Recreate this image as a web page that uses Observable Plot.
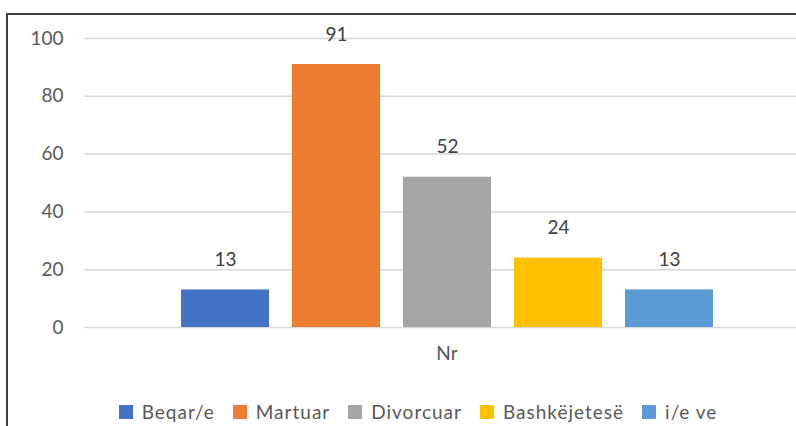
<!DOCTYPE html>
<html>
<head>
<meta charset="utf-8">
<script src="https://cdn.jsdelivr.net/npm/d3@7"></script>
<script src="https://cdn.jsdelivr.net/npm/@observablehq/plot@0.6"></script>
<style>
  html, body { margin: 0; padding: 0; background: #fff; overflow: hidden; width: 796px; height: 426px; }
  #wrap { position: relative; width: 796px; height: 426px; }
  #frame { position: absolute; left: 6px; top: 13px; width: 900px; height: 600px; border-left: 2px solid #3f3f3f; border-top: 2px solid #3f3f3f; pointer-events: none; }
  #chart { position: absolute; left: 0; top: 0; }
  #leg { position: absolute; left: 0; top: 395px; width: 836px; }
  #leg > div { justify-content: center; font-family: Lato, sans-serif; font-size: 19px; color: #595959; letter-spacing: 1px; }
  #leg span { margin-right: 18px; }
  #leg span:last-of-type { margin-right: 0; }
  #leg svg { margin-right: 9px; }
</style>
</head>
<body>
<div id="wrap">
  <div id="chart"></div>
  <div id="leg"></div>
  <div id="frame"></div>
</div>
<script>
const categories = ["Beqar/e", "Martuar", "Divorcuar", "Bashkëjetesë", "i/e ve"];
const values = [13, 91, 52, 24, 13];
const colors = ["#4472C4", "#ED7D31", "#A5A5A5", "#FFC000", "#5B9BD5"];
const group = "Nr";
const yTicks = [0, 20, 40, 60, 80, 100];

const data = categories.map((c, i) => ({g: group, cat: c, v: values[i]}));

const chart = Plot.plot({
  width: 796,
  height: 385,
  marginLeft: 84,
  marginRight: 0,
  marginTop: 38,
  marginBottom: 58,
  style: {fontFamily: "Lato, sans-serif", fontSize: "19px", color: "#595959", background: "transparent"},
  fx: {domain: [group], range: [84, 809], padding: 0, label: null},
  x: {domain: categories, paddingInner: 0.21, paddingOuter: 0.856, axis: null},
  y: {domain: [0, 100], ticks: yTicks, label: null},
  color: {domain: categories, range: colors},
  marks: [
    Plot.gridY(yTicks, {stroke: "#d9d9d9", strokeOpacity: 1, strokeWidth: 1.5}),
    Plot.axisY(yTicks, {tickSize: 0, tickPadding: 21, label: null, fill: "#595959"}),
    Plot.axisFx({anchor: "bottom", tickSize: 0, tickPadding: 19, label: null, fill: "#595959"}),
    Plot.barY(data, {fx: "g", x: "cat", y: "v", fill: "cat"}),
    Plot.text(data, {fx: "g", x: "cat", y: "v", text: d => String(d.v), dy: -30, fill: "#404040", fontSize: 19})
  ]
});
document.getElementById("chart").appendChild(chart);

const leg = Plot.legend({
  color: {domain: categories, range: colors},
  legend: "swatches",
  swatchSize: 14
});
document.getElementById("leg").appendChild(leg);
</script>
</body>
</html>
